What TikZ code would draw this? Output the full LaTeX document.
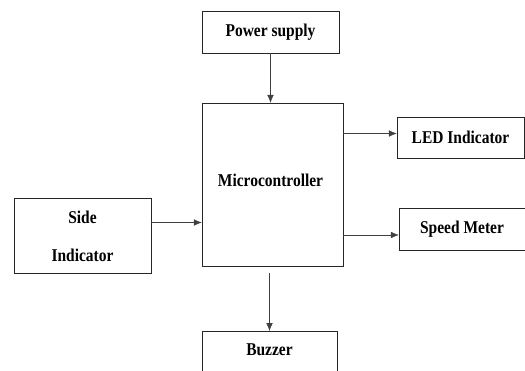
\documentclass[tikz,border=0pt]{standalone}
\usepackage{fontspec}
\setmainfont[FakeStretch=0.86]{Liberation Serif}
\usetikzlibrary{arrows.meta}

\begin{document}
\begin{tikzpicture}[x=1pt,y=-1pt,
    block/.style={draw=black!85,thin,font=\fontsize{18}{20}\bfseries\selectfont,inner sep=0pt},
    conn/.style={draw=black!75,thin,-{Latex[length=8pt,width=6.5pt]}}]
  \clip (0,0) rectangle (525,370);
  \node[block,minimum width=137pt,minimum height=42pt] (power) at (270.5,32) {Power supply};
  \node[block,minimum width=141pt,minimum height=163pt] (micro) at (272.5,184.5) {};
  \node[font=\fontsize{18}{20}\bfseries\selectfont] (microlabel) at (270.5,180) {Microcontroller};
  \node[block,minimum width=137pt,minimum height=75pt,align=center] (side) at (82.5,236) {Side\\[18pt]Indicator};
  \node[block,minimum width=127pt,minimum height=41pt] (led) at (460.5,137.5) {LED Indicator};
  \node[block,minimum width=126pt,minimum height=42pt] (speed) at (462,229) {Speed Meter};
  \node[block,minimum width=135pt,minimum height=50pt,anchor=north] (buzzer) at (269.5,331) {};
  \node[font=\fontsize{18}{20}\bfseries\selectfont] (buzzerlabel) at (269.5,350) {Buzzer};
  % connections
  \draw[conn] (power) -- (power |- micro.north);
  \draw[conn] ([yshift=13.5pt]side.east) -- ([yshift=13.5pt]side.east -| micro.west);
  \draw[conn] ([yshift=4pt]led.west -| micro.east) -- ([yshift=4pt]led.west);
  \draw[conn] ([yshift=-6pt]speed.west -| micro.east) -- ([yshift=-6pt]speed.west);
  \draw[conn] ([yshift=-7pt]micro.south -| buzzer.north) -- (buzzer.north);
\end{tikzpicture}
\end{document}
